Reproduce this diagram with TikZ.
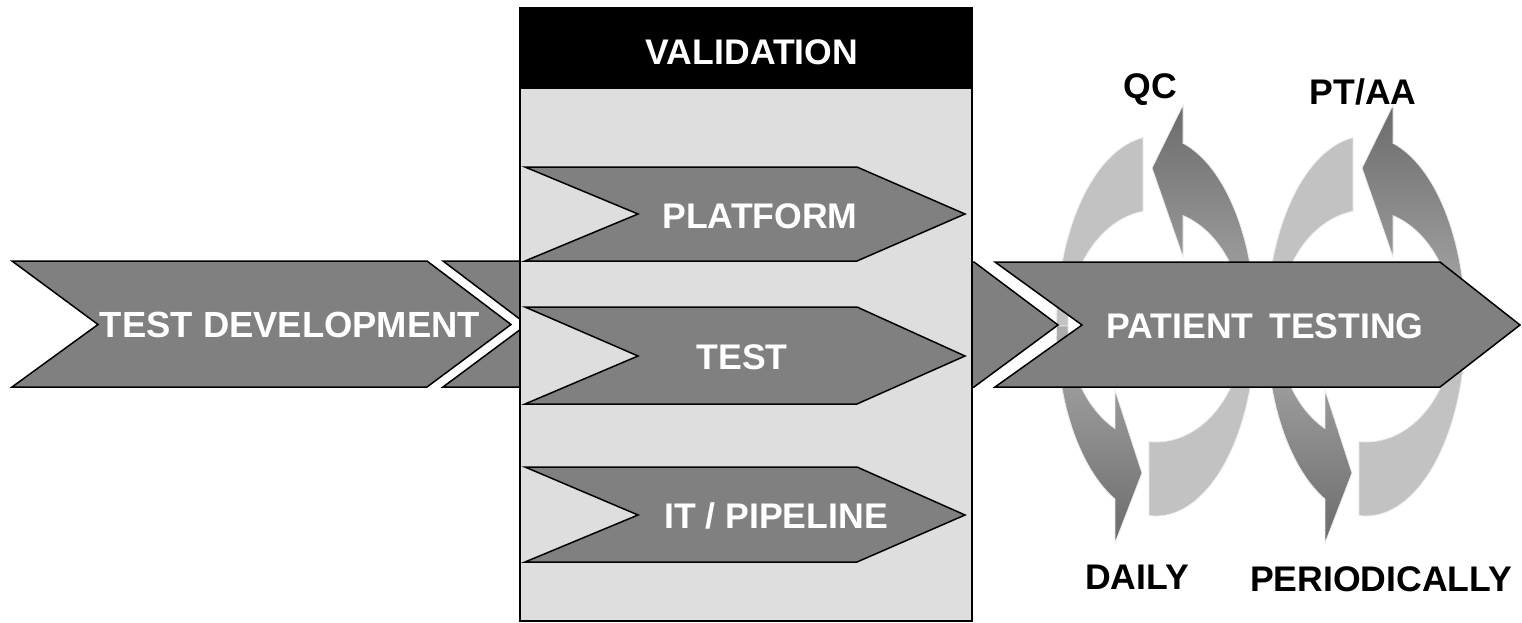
\documentclass[tikz,border=0pt]{standalone}
\usepackage{fontspec}
\setmainfont{Liberation Sans}
\begin{document}
\begin{tikzpicture}[x=0.5pt,y=-0.5pt,line join=miter,
  chev/.style={fill=gray,draw=black,line width=0.75pt},
  wlabel/.style={text=white,font=\bfseries\fontsize{17.8}{21}\selectfont,inner sep=0pt,anchor=base},
  blabel/.style={text=black,font=\bfseries\fontsize{17.8}{21}\selectfont,inner sep=0pt,anchor=base},
  lightpart/.style={fill=black!24,draw=black!8,line width=0.4pt},
  darktop/.style={top color=black!58,bottom color=black!32,draw=black!8,line width=0.4pt},
  darkbot/.style={top color=black!32,bottom color=black!58,draw=black!8,line width=0.4pt}]
\useasboundingbox (0,0) rectangle (1522,622);

% ---- circular arrows (behind the patient-testing arrow)
\foreach \s/\n in {0/a,210/b}{
\begin{scope}[shift={(\s,0)}]
  \coordinate (c\n) at (1156,326);
  % upper left light part
  \filldraw[lightpart] (c\n) ++(-97.5:99.5 and 190)
     arc[start angle=-97.5,end angle=-180,x radius=99.5,y radius=190]
     -- ++(11.5,0)
     arc[start angle=-180,end angle=-98.5,x radius=88,y radius=116] -- cycle;
  % upper right dark part with head
  \shadedraw[darktop] (1183,143) -- (1183,105) -- (1152,168) -- (1183,257) -- (1183,215.6)
     arc[start angle=-72.1,end angle=0,x radius=88,y radius=116]
     -- ++(11.5,0)
     arc[start angle=0,end angle=-74.3,x radius=99.5,y radius=190] -- cycle;
  % lower left dark part with head
  \shadedraw[darkbot] (1056.5,326)
     arc[start angle=180,end angle=114.3,x radius=99.5,y radius=190]
     -- (1115,543) -- (1142,473) -- (1115,390) -- (1115,428.6)
     arc[start angle=117.8,end angle=180,x radius=88,y radius=116] -- cycle;
  % lower right light part
  \filldraw[lightpart] (c\n) ++(94:99.5 and 190)
     arc[start angle=94,end angle=0,x radius=99.5,y radius=190]
     -- ++(-11.5,0)
     arc[start angle=0,end angle=94.6,x radius=88,y radius=116] -- cycle;
\end{scope}}

% ---- main chevrons
\draw[chev] (12,261) -- (427,261) -- (511,324.5) -- (427,387) -- (12,387) -- (98,324.5) -- cycle;
\draw[chev] (443,261) -- (560,261) -- (560,387) -- (443,387) -- (527,324.5) -- cycle;
\draw[chev] (900,262) -- (974,262) -- (1058,325) -- (974,387) -- (900,387) -- cycle;
\draw[chev] (995,262) -- (1440,262) -- (1520,325) -- (1440,387) -- (995,387) -- (1082,325) -- cycle;

% ---- validation box
\fill[black!13] (520,89) rectangle (972,621);
\fill[black] (520,8) rectangle (972,89);
\draw[line width=0.75pt] (520,8) rectangle (972,621);

\draw[chev] (525,167) -- (857,167) -- (965,214) -- (857,261) -- (525,261) -- (638,214) -- cycle;
\draw[chev] (525,307) -- (857,307) -- (965,356) -- (857,404) -- (525,404) -- (638,356) -- cycle;
\draw[chev] (525,467) -- (857,467) -- (965,515) -- (857,562) -- (525,562) -- (638,515) -- cycle;

% ---- labels
\node[wlabel,font=\bfseries\fontsize{18.2}{21}\selectfont] (td) at (290,337.5) {TEST DEVELOPMENT};
\node[wlabel] (val) at (752,64.5) {VALIDATION};
\node[wlabel] (plat) at (760,228) {PLATFORM};
\node[wlabel] (tst) at (742,369.5) {TEST};
\node[wlabel] (itp) at (776,528.5) {IT / PIPELINE};
\node[wlabel] (pt) at (1265,338.5) {PATIENT\ \,TESTING};
\node[blabel] (qc) at (1150,98) {QC};
\node[blabel] (ptaa) at (1363,104) {PT/AA};
\node[blabel] (daily) at (1137,589.5) {DAILY};
\node[blabel] (period) at (1381,591.5) {PERIODICALLY};
\end{tikzpicture}
\end{document}
